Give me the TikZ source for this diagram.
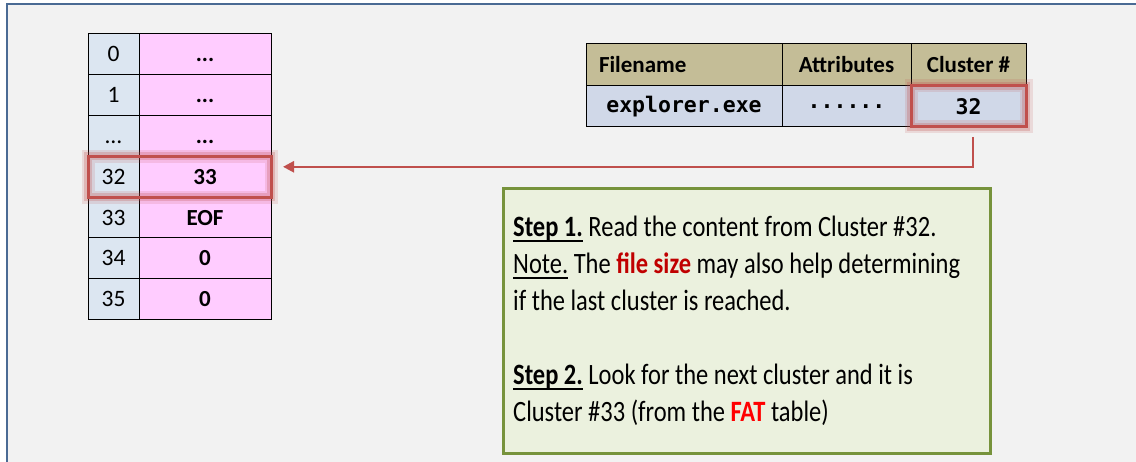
\documentclass[tikz,border=0pt]{standalone}
\usepackage{fontspec}
\setmainfont{Carlito}
\setmonofont{DejaVu Sans Mono}
\newfontfamily\boxfont[FakeStretch=0.83]{Carlito}
\usetikzlibrary{arrows.meta}
\definecolor{bgray}{HTML}{F2F2F2}
\definecolor{frameblue}{HTML}{4A6A94}
\definecolor{idxblue}{HTML}{DCE6F1}
\definecolor{fatpink}{HTML}{FFCCFF}
\definecolor{hdrtan}{HTML}{C4BD97}
\definecolor{rowblue}{HTML}{D0D8E8}
\definecolor{hlred}{HTML}{C0504D}
\definecolor{boxgreen}{HTML}{77933C}
\definecolor{boxfill}{HTML}{EBF1DE}
\definecolor{darkred}{HTML}{C00000}
\definecolor{brightred}{HTML}{FF0000}
\newcommand\thickul[1]{\setbox0\hbox{#1}\rlap{\rule[-5pt]{\wd0}{2pt}}\box0\relax}
\begin{document}
\begin{tikzpicture}[x=1pt,y=-1pt,
  cell/.style={draw=black, line width=1pt, anchor=north west, inner sep=0pt, outer sep=0pt},
  idx/.style={cell, fill=idxblue, minimum width=51pt, minimum height=40.8pt, text height=15pt, text depth=0pt, font=\fontsize{23.5}{26}\selectfont},
  val/.style={cell, fill=fatpink, minimum width=132pt, minimum height=40.8pt, text height=15pt, text depth=0pt, font=\fontsize{23}{26}\selectfont\bfseries},
  hdr/.style={cell, fill=hdrtan, minimum height=42pt, font=\fontsize{23}{27}\selectfont\bfseries},
  dat/.style={cell, fill=rowblue, minimum height=41pt, font=\fontsize{21.5}{26}\selectfont\ttfamily\bfseries},
  hl/.style={draw=hlred, line width=3pt,
    preaction={draw=hlred, opacity=0.15, line width=13pt},
    preaction={draw=hlred, opacity=0.25, line width=8pt}},
  steptext/.style={anchor=base west, inner sep=0pt, font=\boxfont\fontsize{29.5}{34}\selectfont},
  conn/.style={draw=hlred, line width=2.5pt, -{Triangle[length=11pt,width=11pt]}}
]
\useasboundingbox (0,0) rectangle (1136,462);
% outer frame
\fill[bgray] (7,4) rectangle (1136,462);
\draw[frameblue, line width=2.5pt] (7,465) -- (7,4) -- (1139,4);

% FAT table
\node[idx] (i0) at (88,34) {0};
\node[val] (v0) at (139,34) {...};
\node[idx] (i1) at (88,74.8) {1};
\node[val] (v1) at (139,74.8) {...};
\node[idx] (i2) at (88,115.6) {\dots};
\node[val] (v2) at (139,115.6) {...};
\node[idx] (i3) at (88,156.4) {32};
\node[val] (v3) at (139,156.4) {33};
\node[idx] (i4) at (88,197.2) {33};
\node[val] (v4) at (139,197.2) {EOF};
\node[idx] (i5) at (88,238) {34};
\node[val] (v5) at (139,238) {0};
\node[idx] (i6) at (88,278.8) {35};
\node[val] (v6) at (139,278.8) {0};
\draw[hl] (i3.north west) rectangle (v3.south east);

% directory entry table
\node[hdr, minimum width=196pt, text width=170pt, inner xsep=13pt, align=left] (h1) at (586,44) {Filename};
\node[hdr, minimum width=129pt] (h2) at (782,44) {Attributes};
\node[hdr, minimum width=115pt] (h3) at (911,44) {Cluster \#};
\node[dat, minimum width=196pt] (d1) at (586,86) {explorer.exe};
\node[dat, minimum width=129pt] (d2) at (782,86) {......};
\node[dat, minimum width=115pt] (d3) at (911,86) {32};
\draw[hl] (d3.north west) rectangle (d3.south east);

% green explanation box
\node[draw=boxgreen, fill=boxfill, line width=3pt, anchor=north west, inner sep=0pt,
      minimum width=487pt, minimum height=265pt] (box) at (502,187) {};
\node[steptext] (t1) at (513,237) {\thickul{\textbf{Step 1.}} Read the content from Cluster \#32.};
\node[steptext] (t2) at (513,274) {\thickul{Note.} The \textcolor{darkred}{\textbf{file size}} may also help determining};
\node[steptext] (t3) at (513,311) {if the last cluster is reached.};
\node[steptext] (t4) at (513,385) {\thickul{\textbf{Step 2.}} Look for the next cluster and it is};
\node[steptext] (t5) at (513,421) {Cluster \#33 (from the \textcolor{brightred}{\textbf{FAT}} table)};

% connector
\draw[conn] ([xshift=4.5pt,yshift=-10pt]d3.south) |- ([xshift=12pt,yshift=10pt]v3.east);
\end{tikzpicture}
\end{document}
